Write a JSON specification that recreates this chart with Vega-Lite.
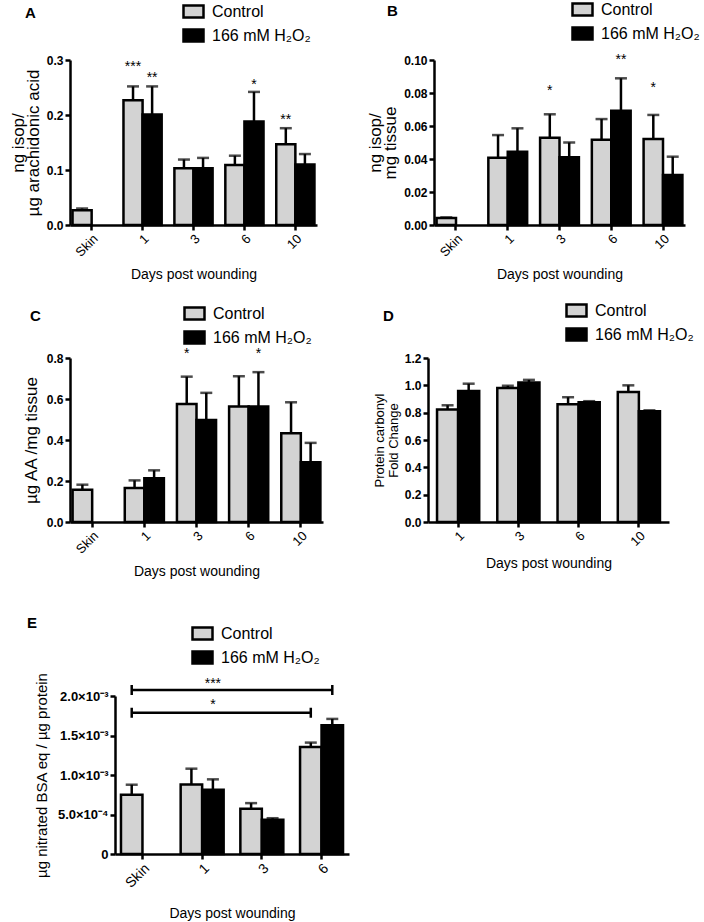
{
"$schema":"https://vega.github.io/schema/vega-lite/v6.json",
"background":"white",
"padding":{"left":9,"top":-2,"right":0,"bottom":0},
"config":{
 "font":"Liberation Sans",
 "view":{"stroke":null},
 "axis":{"domainColor":"black","domainWidth":2.5,"tickColor":"black","tickWidth":2.5,"tickSize":5,"grid":false,"labelColor":"black","titleColor":"black","titleFontWeight":"normal","labelPadding":2,"labelOverlap":false},
 "axisX":{"labelAngle":-45,"labelFontSize":13,"titleFontSize":14,"titlePadding":8},
 "axisY":{"labelFontWeight":"bold","labelFontSize":12,"titleFontSize":17,"titlePadding":4,"titleLineHeight":15},
 "legend":{"orient":"none","title":null,"symbolType":"M-1,-0.6H1V0.6H-1Z","symbolSize":400,"symbolStrokeColor":"black","symbolStrokeWidth":2,"labelFontSize":16,"labelColor":"black","rowPadding":1,"labelOffset":7,"padding":0},
 "title":{"anchor":"start","fontSize":15,"fontWeight":"bold","color":"black","frame":"group","offset":-21},
 "bar":{"stroke":"black","strokeWidth":2.5},
 "rule":{"color":"black","strokeWidth":2.5},
 "tick":{"color":"black","thickness":2.5},
 "text":{"fontSize":14,"baseline":"middle","dy":3,"color":"black"},
 "line":{"color":"black","strokeWidth":2.5},
 "point":{"color":"black","strokeWidth":2.5,"filled":false,"opacity":1}
},
"datasets":{
 "A":[
  {"day":"Skin","group":"Control","value":0.027,"err":0.030},
  {"day":"1","group":"Control","value":0.227,"err":0.252},
  {"day":"1","group":"H2O2","value":0.201,"err":0.252},
  {"day":"3","group":"Control","value":0.103,"err":0.119},
  {"day":"3","group":"H2O2","value":0.103,"err":0.122},
  {"day":"6","group":"Control","value":0.109,"err":0.126},
  {"day":"6","group":"H2O2","value":0.188,"err":0.242},
  {"day":"10","group":"Control","value":0.147,"err":0.176},
  {"day":"10","group":"H2O2","value":0.110,"err":0.129}
 ],
 "Astars":[
  {"day":"1","group":"Control","stars":"***","at":0.292},
  {"day":"1","group":"H2O2","stars":"**","at":0.273},
  {"day":"6","group":"H2O2","stars":"*","at":0.260},
  {"day":"10","group":"Control","stars":"**","at":0.197}
 ],
 "B":[
  {"day":"Skin","group":"Control","value":0.0042,"err":0.0046},
  {"day":"1","group":"Control","value":0.0408,"err":0.0545},
  {"day":"1","group":"H2O2","value":0.0444,"err":0.0586},
  {"day":"3","group":"Control","value":0.0529,"err":0.0671},
  {"day":"3","group":"H2O2","value":0.0410,"err":0.0500},
  {"day":"6","group":"Control","value":0.0517,"err":0.0642},
  {"day":"6","group":"H2O2","value":0.0693,"err":0.0889},
  {"day":"10","group":"Control","value":0.0521,"err":0.0667},
  {"day":"10","group":"H2O2","value":0.0303,"err":0.0414}
 ],
 "Bstars":[
  {"day":"3","group":"Control","stars":"*","at":0.0828},
  {"day":"6","group":"H2O2","stars":"**","at":0.102},
  {"day":"10","group":"Control","stars":"*","at":0.0848}
 ],
 "C":[
  {"day":"Skin","group":"Control","value":0.157,"err":0.182},
  {"day":"1","group":"Control","value":0.166,"err":0.203},
  {"day":"1","group":"H2O2","value":0.214,"err":0.252},
  {"day":"3","group":"Control","value":0.576,"err":0.709},
  {"day":"3","group":"H2O2","value":0.498,"err":0.630},
  {"day":"6","group":"Control","value":0.563,"err":0.711},
  {"day":"6","group":"H2O2","value":0.563,"err":0.731},
  {"day":"10","group":"Control","value":0.433,"err":0.584},
  {"day":"10","group":"H2O2","value":0.292,"err":0.386}
 ],
 "Cstars":[
  {"day":"3","group":"Control","stars":"*","at":0.836},
  {"day":"6","group":"H2O2","stars":"*","at":0.836}
 ],
 "D":[
  {"day":"1","group":"Control","value":0.824,"err":0.854},
  {"day":"1","group":"H2O2","value":0.959,"err":1.012},
  {"day":"3","group":"Control","value":0.98,"err":0.997},
  {"day":"3","group":"H2O2","value":1.02,"err":1.04},
  {"day":"6","group":"Control","value":0.861,"err":0.913},
  {"day":"6","group":"H2O2","value":0.876,"err":0.884},
  {"day":"10","group":"Control","value":0.951,"err":1.0},
  {"day":"10","group":"H2O2","value":0.81,"err":0.817}
 ],
 "E":[
  {"day":"Skin","group":"Control","value":0.00075,"err":0.000877},
  {"day":"1","group":"Control","value":0.00088,"err":0.00108},
  {"day":"1","group":"H2O2","value":0.000814,"err":0.000945},
  {"day":"3","group":"Control","value":0.000572,"err":0.000644},
  {"day":"3","group":"H2O2","value":0.000432,"err":0.000453},
  {"day":"6","group":"Control","value":0.001356,"err":0.00141},
  {"day":"6","group":"H2O2","value":0.00163,"err":0.00171}
 ],
 "Ebr":[
  {"bracket":"p1","day":"Skin","group":"Control","at":0.001788},
  {"bracket":"p1","day":"6","group":"Control","at":0.001788},
  {"bracket":"p2","day":"Skin","group":"Control","at":0.002076},
  {"bracket":"p2","day":"6","group":"H2O2","at":0.002076}
 ],
 "Ebt":[
  {"day":"1","group":"H2O2","stars":"*","at":0.00192},
  {"day":"1","group":"H2O2","stars":"***","at":0.00219}
 ]
},
"resolve":{"scale":{"x":"independent","y":"independent","fill":"independent","xOffset":"independent"},"legend":{"fill":"independent"}},
"spacing":37,
"vconcat":[
 {"vconcat":[
 {"hconcat":[
  {"width":247,"height":165,"title":{"text":"A","dx":-45},"data":{"name":"A"},
   "encoding":{"x":{"field":"day","type":"nominal","sort":["Skin","1","3","6","10"],"scale":{"paddingInner":0.25,"paddingOuter":0.05},"title":"Days post wounding"},
     "xOffset":{"field":"group","type":"nominal","scale":{"domain":["Control","H2O2"]}}},
   "layer":[
    {"mark":"bar","encoding":{"y":{"field":"value","type":"quantitative","scale":{"domain":[0,0.3],"nice":false},"axis":{"values":[0,0.1,0.2,0.3],"tickCount":20,"format":".1f","title":["ng isop/","µg arachidonic acid"]}},
      "fill":{"field":"group","type":"nominal","scale":{"domain":["Control","H2O2"],"range":["#d3d3d3","#000000"]},"legend":{"legendX":112,"legendY":-60,"labelExpr":"datum.label == 'H2O2' ? '166 mM H₂O₂' : datum.label"}}}},
    {"mark":"rule","encoding":{"y":{"field":"value","type":"quantitative"},"y2":{"field":"err"}}},
    {"mark":{"type":"tick","size":12},"encoding":{"y":{"field":"err","type":"quantitative"}}},
    {"data":{"name":"Astars"},"mark":"text","encoding":{"y":{"field":"at","type":"quantitative"},"text":{"field":"stars"}}}
   ]},
  {"width":251,"height":165,"title":{"text":"B","dx":-47},"data":{"name":"B"},
   "encoding":{"x":{"field":"day","type":"nominal","sort":["Skin","1","3","6","10"],"scale":{"paddingInner":0.25,"paddingOuter":0.05},"title":"Days post wounding"},
     "xOffset":{"field":"group","type":"nominal","scale":{"domain":["Control","H2O2"]}}},
   "layer":[
    {"mark":"bar","encoding":{"y":{"field":"value","type":"quantitative","scale":{"domain":[0,0.1],"nice":false},"axis":{"values":[0,0.02,0.04,0.06,0.08,0.1],"tickCount":20,"format":".2f","title":["ng isop/","mg tissue"]}},
      "fill":{"field":"group","type":"nominal","scale":{"domain":["Control","H2O2"],"range":["#d3d3d3","#000000"]},"legend":{"legendX":137,"legendY":-62,"labelExpr":"datum.label == 'H2O2' ? '166 mM H₂O₂' : datum.label"}}}},
    {"mark":"rule","encoding":{"y":{"field":"value","type":"quantitative"},"y2":{"field":"err"}}},
    {"mark":{"type":"tick","size":12},"encoding":{"y":{"field":"err","type":"quantitative"}}},
    {"data":{"name":"Bstars"},"mark":"text","encoding":{"y":{"field":"at","type":"quantitative"},"text":{"field":"stars"}}}
   ]}
 ],"spacing":49,
 "resolve":{"scale":{"x":"independent","y":"independent","fill":"independent","xOffset":"independent"},"legend":{"fill":"independent"}}},
 {"hconcat":[
  {"width":253,"height":164,"title":{"text":"C","dx":-40,"offset":-22},"data":{"name":"C"},
   "encoding":{"x":{"field":"day","type":"nominal","sort":["Skin","1","3","6","10"],"scale":{"paddingInner":0.25,"paddingOuter":0.05},"title":"Days post wounding"},
     "xOffset":{"field":"group","type":"nominal","scale":{"domain":["Control","H2O2"]}}},
   "layer":[
    {"mark":"bar","encoding":{"y":{"field":"value","type":"quantitative","scale":{"domain":[0,0.8],"nice":false},"axis":{"values":[0,0.2,0.4,0.6,0.8],"tickCount":20,"format":".1f","title":"µg AA /mg tissue","titlePadding":6}},
      "fill":{"field":"group","type":"nominal","scale":{"domain":["Control","H2O2"],"range":["#d3d3d3","#000000"]},"legend":{"legendX":113,"legendY":-56,"labelExpr":"datum.label == 'H2O2' ? '166 mM H₂O₂' : datum.label"}}}},
    {"mark":"rule","encoding":{"y":{"field":"value","type":"quantitative"},"y2":{"field":"err"}}},
    {"mark":{"type":"tick","size":12},"encoding":{"y":{"field":"err","type":"quantitative"}}},
    {"data":{"name":"Cstars"},"mark":"text","encoding":{"y":{"field":"at","type":"quantitative"},"text":{"field":"stars"}}}
   ]},
  {"width":241,"height":164,"title":{"text":"D","dx":-45,"offset":-25},"data":{"name":"D"},
   "encoding":{"x":{"field":"day","type":"nominal","sort":["1","3","6","10"],"scale":{"paddingInner":0.3,"paddingOuter":0.15},"title":"Days post wounding"},
     "xOffset":{"field":"group","type":"nominal","scale":{"domain":["Control","H2O2"]}}},
   "layer":[
    {"mark":"bar","encoding":{"y":{"field":"value","type":"quantitative","scale":{"domain":[0,1.2],"nice":false},"axis":{"values":[0,0.2,0.4,0.6,0.8,1.0,1.2],"tickCount":20,"format":".1f","title":["Protein carbonyl","Fold Change"],"titleFontSize":13,"titleLineHeight":14}},
      "fill":{"field":"group","type":"nominal","scale":{"domain":["Control","H2O2"],"range":["#d3d3d3","#000000"]},"legend":{"legendX":137,"legendY":-59,"labelExpr":"datum.label == 'H2O2' ? '166 mM H₂O₂' : datum.label"}}}},
    {"mark":"rule","encoding":{"y":{"field":"value","type":"quantitative"},"y2":{"field":"err"}}},
    {"mark":{"type":"tick","size":12},"encoding":{"y":{"field":"err","type":"quantitative"}}}
   ]}
 ],"spacing":50,
 "resolve":{"scale":{"x":"independent","y":"independent","fill":"independent","xOffset":"independent"},"legend":{"fill":"independent"}}}
 ],"spacing":17,
 "resolve":{"scale":{"x":"independent","y":"independent","fill":"independent","xOffset":"independent"},"legend":{"fill":"independent"}}},
 {"width":279,"height":158,"title":{"text":"E","dx":-43,"offset":-9},"data":{"name":"E"},
  "encoding":{"x":{"field":"day","type":"nominal","sort":["Skin","1","3","6"],"scale":{"range":[45,279],"paddingInner":0.28,"paddingOuter":0.1},"title":"Days post wounding","axis":{"titlePadding":16,"labelFontSize":14}},
    "xOffset":{"field":"group","type":"nominal","scale":{"domain":["Control","H2O2"]}}},
  "layer":[
   {"mark":"bar","encoding":{"y":{"field":"value","type":"quantitative","scale":{"domain":[0,0.002],"nice":false},"axis":{"offset":-45,"values":[0,0.0005,0.001,0.0015,0.002],"tickCount":20,"labelFontSize":13,"labelExpr":"datum.value == 0 ? '0' : datum.value < 0.0007 ? '5.0×10⁻⁴' : format(datum.value*1000,'.1f') + '×10⁻³'","title":"µg nitrated BSA eq / µg protein","titleFontSize":15,"titlePadding":8}},
     "fill":{"field":"group","type":"nominal","scale":{"domain":["Control","H2O2"],"range":["#d3d3d3","#000000"]},"legend":{"legendX":121,"legendY":-74,"labelExpr":"datum.label == 'H2O2' ? '166 mM H₂O₂' : datum.label"}}}},
   {"mark":"rule","encoding":{"y":{"field":"value","type":"quantitative"},"y2":{"field":"err"}}},
   {"mark":{"type":"tick","size":12},"encoding":{"y":{"field":"err","type":"quantitative"}}},
   {"data":{"name":"Ebr"},"mark":"line","encoding":{"y":{"field":"at","type":"quantitative"},"detail":{"field":"bracket"}}},
   {"data":{"name":"Ebr"},"mark":{"type":"point","shape":"M0,-1V1","size":100},"encoding":{"y":{"field":"at","type":"quantitative"}}},
   {"data":{"name":"Ebt"},"mark":"text","encoding":{"y":{"field":"at","type":"quantitative"},"text":{"field":"stars"}}}
  ]}
]
}
